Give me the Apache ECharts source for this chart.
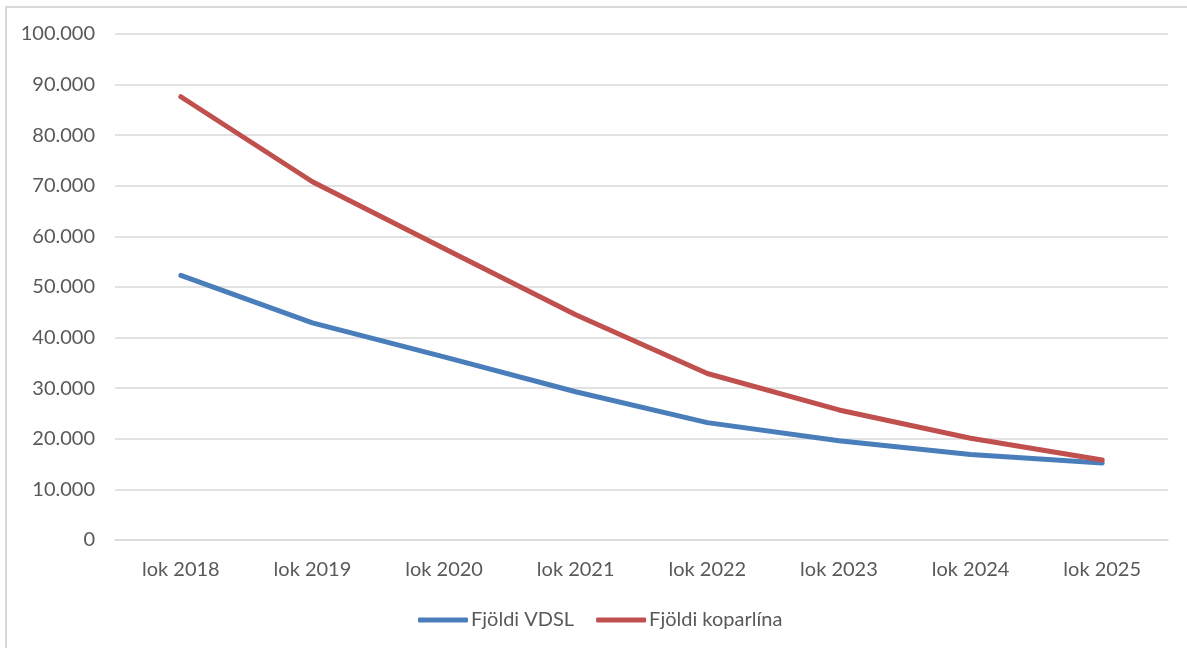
<!DOCTYPE html>
<html>
<head>
<meta charset="utf-8">
<script src="https://cdn.jsdelivr.net/npm/echarts@6/dist/echarts.min.js"></script>
<style>
  html, body { margin: 0; padding: 0; background: #fff; }
  #frame { position: absolute; left: 5px; top: 6px; width: 1182px; height: 642px;
           border-top: 2px solid #d9d9d9; border-left: 2px solid #d9d9d9; box-sizing: border-box; }
  #chart { position: absolute; left: 0; top: 0; width: 1187px; height: 648px; }
</style>
</head>
<body>
<div id="frame"></div>
<div id="chart"></div>
<script>
// Line counts at year end
const categories = ['lok 2018', 'lok 2019', 'lok 2020', 'lok 2021', 'lok 2022', 'lok 2023', 'lok 2024', 'lok 2025'];
const vdsl = [52300, 42900, 36200, 29300, 23200, 19600, 16900, 15200];
const kopar = [87600, 70800, 57600, 44500, 32900, 25700, 20100, 15800];
const seriesNames = ['Fjöldi VDSL', 'Fjöldi koparlína'];

const textColor = '#595959';
const font = 'Lato';

const chart = echarts.init(document.getElementById('chart'), null, { renderer: 'canvas' });
chart.setOption({
  animation: false,
  backgroundColor: 'transparent',
  grid: { left: 115, right: 19, top: 34, bottom: 108 },
  legend: {
    left: 413, top: 605,
    itemWidth: 50, itemHeight: 5, itemGap: 22,
    icon: 'roundRect',
    textStyle: { color: textColor, fontSize: 20, fontFamily: font, padding: [0, 0, 0, -2] },
    data: seriesNames
  },
  xAxis: {
    type: 'category',
    data: categories,
    boundaryGap: true,
    axisLine: { show: true, lineStyle: { color: '#d9d9d9', width: 1.5 } },
    axisTick: { show: false },
    axisLabel: { color: textColor, fontSize: 20, fontFamily: font, margin: 20 }
  },
  yAxis: {
    type: 'value',
    min: 0, max: 100000, interval: 10000,
    axisLine: { show: false },
    axisTick: { show: false },
    splitLine: { lineStyle: { color: '#d9d9d9', width: 1.5 } },
    axisLabel: {
      color: textColor, fontSize: 20, fontFamily: font, margin: 20,
      formatter: v => v === 0 ? '0' : String(v).replace(/\B(?=(\d{3})+(?!\d))/g, '.')
    }
  },
  series: [
    { name: seriesNames[0], type: 'line', data: vdsl, showSymbol: false, symbol: 'none',
      lineStyle: { color: '#4a7ebb', width: 5, cap: 'round', join: 'round' }, itemStyle: { color: '#4a7ebb' } },
    { name: seriesNames[1], type: 'line', data: kopar, showSymbol: false, symbol: 'none',
      lineStyle: { color: '#c0504d', width: 5, cap: 'round', join: 'round' }, itemStyle: { color: '#c0504d' } }
  ]
});
</script>
</body>
</html>
